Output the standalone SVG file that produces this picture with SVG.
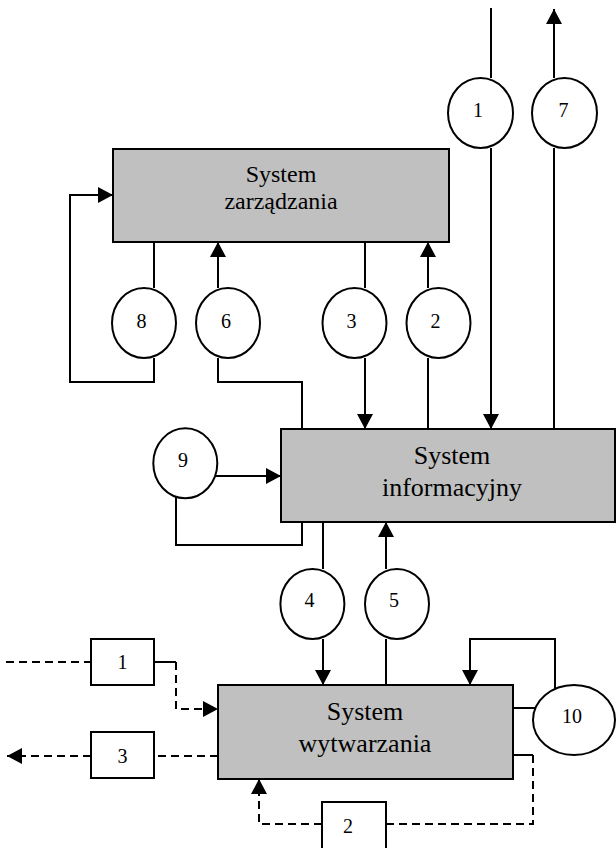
<svg xmlns="http://www.w3.org/2000/svg" width="616" height="848" viewBox="0 0 616 848">
<style>
.box{fill:#c0c0c0;stroke:#000;stroke-width:2}
.sbox{fill:#fff;stroke:#000;stroke-width:2}
.el{fill:#fff;stroke:#000;stroke-width:2}
.ln{fill:none;stroke:#000;stroke-width:2}
.dl{fill:none;stroke:#000;stroke-width:2;stroke-dasharray:8 5}
.arr{marker-end:url(#ah)}
.t{font-family:"Liberation Serif","Times New Roman",serif;text-anchor:middle;fill:#000}
.big{font-size:26px}
.mid{font-size:24px}
.num{font-size:20px}
</style>
<defs>
<marker id="ah" viewBox="0 0 15 16" refX="15" refY="8" markerWidth="15" markerHeight="16" markerUnits="userSpaceOnUse" orient="auto">
<path d="M0,0 L15,8 L0,16 z" fill="#000"/>
</marker>
</defs>
<rect width="616" height="848" fill="#fff"/>
<g id="connectors">
<line class="ln" x1="491" y1="8" x2="491" y2="78"/>
<line class="ln arr" x1="491" y1="148" x2="491" y2="429"/>
<line class="ln" x1="554" y1="429" x2="554" y2="148"/>
<line class="ln arr" x1="554" y1="78" x2="554" y2="9"/>
<line class="ln" x1="154" y1="242" x2="154" y2="288"/>
<polyline class="ln arr" points="154,358 154,382 70,382 70,195 113,195"/>
<line class="ln arr" x1="218" y1="288" x2="218" y2="242"/>
<polyline class="ln" points="218,358 218,382 302,382 302,429"/>
<line class="ln" x1="365" y1="242" x2="365" y2="288"/>
<line class="ln arr" x1="365" y1="358" x2="365" y2="429"/>
<line class="ln" x1="428" y1="429" x2="428" y2="358"/>
<line class="ln arr" x1="428" y1="288" x2="428" y2="242"/>
<line class="ln arr" x1="215" y1="476" x2="281" y2="476"/>
<polyline class="ln" points="176,497 176,545 302,545 302,522"/>
<line class="ln" x1="323" y1="522" x2="323" y2="569"/>
<line class="ln arr" x1="323" y1="639" x2="323" y2="685"/>
<line class="ln" x1="386" y1="685" x2="386" y2="639"/>
<line class="ln arr" x1="386" y1="569" x2="386" y2="522"/>
<polyline class="ln arr" points="555,689 555,639 470,639 470,685"/>
<line class="ln" x1="513" y1="708" x2="536" y2="708"/>
<line class="dl" x1="6" y1="662" x2="91" y2="662"/>
<line class="ln" x1="154" y1="662" x2="176" y2="662"/>
<polyline class="dl arr" points="176,662 176,709 218,709"/>
<line class="dl" x1="218" y1="756" x2="154" y2="756"/>
<line class="dl arr" x1="91" y1="756" x2="7" y2="756"/>
<line class="ln" x1="513" y1="755" x2="533" y2="755"/>
<polyline class="dl" points="533,755 533,824 386,824"/>
<polyline class="dl arr" points="322,824 259,824 259,779"/>
</g>
<g id="system-zarzadzania">
<rect class="box" x="113" y="149" width="336" height="93"/>
<text class="t mid" x="281" y="182">System</text>
<text class="t mid" x="281" y="209">zarządzania</text>
</g>
<g id="system-informacyjny">
<rect class="box" x="281" y="429" width="334" height="93"/>
<text class="t big" x="452" y="464">System</text>
<text class="t big" x="452" y="496">informacyjny</text>
</g>
<g id="system-wytwarzania">
<rect class="box" x="218" y="685" width="295" height="94"/>
<text class="t big" x="365" y="720">System</text>
<text class="t big" x="365" y="752">wytwarzania</text>
</g>
<g id="c1"><ellipse class="el" cx="480.5" cy="113" rx="32.5" ry="35"/><text class="t num" x="478" y="117">1</text></g>
<g id="c7"><ellipse class="el" cx="564.5" cy="113" rx="32.5" ry="35"/><text class="t num" x="563.5" y="117">7</text></g>
<g id="c8"><ellipse class="el" cx="144" cy="323" rx="32" ry="35"/><text class="t num" x="141.5" y="328">8</text></g>
<g id="c6"><ellipse class="el" cx="228" cy="323" rx="32" ry="35"/><text class="t num" x="226" y="328">6</text></g>
<g id="c3"><ellipse class="el" cx="354.5" cy="323" rx="32" ry="35"/><text class="t num" x="351.5" y="328">3</text></g>
<g id="c2"><ellipse class="el" cx="438.5" cy="323" rx="32" ry="35"/><text class="t num" x="435.5" y="328">2</text></g>
<g id="c9"><ellipse class="el" cx="185.3" cy="463.3" rx="32" ry="35"/><text class="t num" x="183" y="467">9</text></g>
<g id="c4"><ellipse class="el" cx="312.4" cy="604" rx="32" ry="35"/><text class="t num" x="309.5" y="607">4</text></g>
<g id="c5"><ellipse class="el" cx="397" cy="604" rx="32" ry="35"/><text class="t num" x="394" y="607">5</text></g>
<g id="c10"><ellipse class="el" cx="574" cy="720" rx="41" ry="35"/><text class="t num" x="572" y="723">10</text></g>
<g id="b1"><rect class="sbox" x="91" y="639" width="63" height="46"/><text class="t num" x="122.5" y="669">1</text></g>
<g id="b3"><rect class="sbox" x="91" y="732" width="63" height="46"/><text class="t num" x="122.5" y="763">3</text></g>
<g id="b2"><rect class="sbox" x="322" y="802" width="64" height="60"/><text class="t num" x="348" y="833">2</text></g>
</svg>
